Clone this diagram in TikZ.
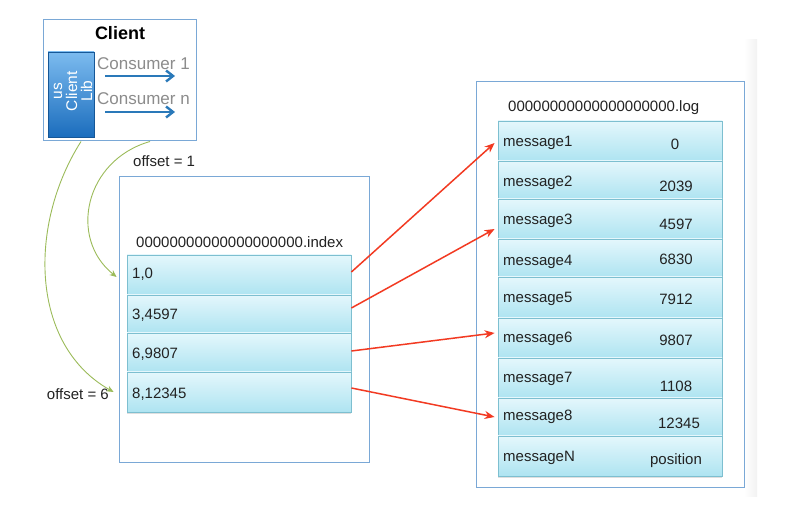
\documentclass[tikz,border=0pt]{standalone}
\usepackage{fontspec}
\setmainfont{Liberation Sans}
\usetikzlibrary{arrows.meta,shadows,calc}
\definecolor{boxblue}{HTML}{7AA8D6}
\definecolor{rowedge}{HTML}{7DBFD0}
\definecolor{rowtop}{HTML}{E4F7FC}
\definecolor{rowbot}{HTML}{AEE4F1}
\definecolor{libtop}{HTML}{7CBBEF}
\definecolor{libbot}{HTML}{1B6DBD}
\definecolor{consblue}{HTML}{2A79B9}
\definecolor{redarr}{HTML}{F23A22}
\definecolor{greenarr}{HTML}{9BBB59}
\definecolor{txt}{HTML}{222222}
\tikzset{
  frame/.style={draw=boxblue, line width=1pt, fill=white},
  rowbox/.style={draw=rowedge, line width=0.8pt, top color=rowtop, bottom color=rowbot,
    minimum width=224pt, inner sep=0pt,
    drop shadow={shadow xshift=0pt, shadow yshift=-2pt, opacity=0.25}},
  lbl/.style={inner sep=0pt, text=txt, font=\fontsize{15}{17}\selectfont, yshift=-1.2pt},
  redline/.style={draw=redarr, line width=1.5pt, -{Stealth[length=10pt,width=8pt]}},
  greenline/.style={draw=greenarr, line width=0.9pt, -{Stealth[length=7pt,width=6pt]}},
  consline/.style={draw=consblue, line width=2.4pt, -{Straight Barb[length=7pt,width=11pt]}},
}
\begin{document}
\begin{tikzpicture}[x=1pt,y=-1pt]
\useasboundingbox (0,0) rectangle (788,510);
% faint background band
\fill[left color=white, right color=black!5] (744,40) rectangle (757,497);

% Client box
\node[frame, minimum width=153pt, minimum height=121pt, inner sep=0pt] (client) at (119.5,80.5) {};
\node[lbl, font=\bfseries\fontsize{18}{20}\selectfont, text=black] (ctitle) at (120,32) {Client};
\node[draw=libbot!80!black, line width=0.5pt, top color=libtop, bottom color=libbot,
      minimum width=46pt, minimum height=85pt, inner sep=0pt] (lib) at (71,94.5) {};
\node[lbl, text=white, rotate=90, align=center, font=\fontsize{15.5}{15}\selectfont, yshift=0pt] (libtxt) at (73,90) {us\\Client\\Lib};
\node[lbl, anchor=west, text=black!45, font=\fontsize{17}{19}\selectfont] (cons1) at (97,62) {Consumer 1};
\node[lbl, anchor=west, text=black!45, font=\fontsize{17}{19}\selectfont] (consn) at (97,97) {Consumer n};
\coordinate (c1s) at (105,76); \coordinate (c1e) at (175,76);
\coordinate (cns) at (105,112); \coordinate (cne) at (175,112);
\draw[consline] (c1s) -- (c1e);
\draw[consline] (cns) -- (cne);

% Index box
\node[frame, minimum width=250pt, minimum height=286pt, inner sep=0pt] (index) at (244,320) {};
\node[lbl, anchor=west] (ifile) at (136,241) {00000000000000000000.index};
\node[rowbox, minimum height=40pt] (i1) at (239,275) {};
\node[rowbox, minimum height=38pt] (i2) at (239,314) {};
\node[rowbox, minimum height=39pt] (i3) at (239,352.5) {};
\node[rowbox, minimum height=40pt] (i4) at (239,392) {};
\node[lbl, anchor=west] (i1t) at (132,273) {1,0};
\node[lbl, anchor=west] (i2t) at (132,314) {3,4597};
\node[lbl, anchor=west] (i3t) at (132,353) {6,9807};
\node[lbl, anchor=west] (i4t) at (132,393) {8,12345};

% Log box
\node[frame, minimum width=268pt, minimum height=406pt, inner sep=0pt] (log) at (610,285) {};
\node[lbl, anchor=west] (lfile) at (508,106) {00000000000000000000.log};
\node[rowbox, minimum height=40pt] (m1) at (610,141) {};
\node[rowbox, minimum height=38pt] (m2) at (610,180) {};
\node[rowbox, minimum height=40pt] (m3) at (610,219) {};
\node[rowbox, minimum height=38pt] (m4) at (610,258) {};
\node[rowbox, minimum height=41pt] (m5) at (610,297.5) {};
\node[rowbox, minimum height=40pt] (m6) at (610,338) {};
\node[rowbox, minimum height=40pt] (m7) at (610,378) {};
\node[rowbox, minimum height=38pt] (m8) at (610,417) {};
\node[rowbox, minimum height=40pt] (mN) at (610,456) {};

\node[lbl, anchor=west] (m1t) at (503,142) {message1};
\node[lbl, anchor=west] (m2t) at (503,182) {message2};
\node[lbl, anchor=west] (m3t) at (503,220) {message3};
\node[lbl, anchor=west] (m4t) at (503,261) {message4};
\node[lbl, anchor=west] (m5t) at (503,298) {message5};
\node[lbl, anchor=west] (m6t) at (503,338) {message6};
\node[lbl, anchor=west] (m7t) at (503,378) {message7};
\node[lbl, anchor=west] (m8t) at (503,416) {message8};
\node[lbl, anchor=west] (mNt) at (503,457) {messageN};

\node[lbl] (p1) at (675,143) {0};
\node[lbl] (p2) at (676,185) {2039};
\node[lbl] (p3) at (676,223) {4597};
\node[lbl] (p4) at (676,258) {6830};
\node[lbl] (p5) at (676,298) {7912};
\node[lbl] (p6) at (676,339) {9807};
\node[lbl] (p7) at (676,385) {1108};
\node[lbl] (p8) at (679,422) {12345};
\node[lbl] (pN) at (676,459) {position};

% red arrows
\draw[redline] ($(i1.east)+(0,-3)$) -- ($(m1.west)+(-3,2)$);
\draw[redline] ($(i2.east)+(0,-6)$) -- ($(m3.west)+(-3,10)$);
\draw[redline] ($(i3.east)+(0,-1.5)$) -- ($(m6.west)+(-3,-5)$);
\draw[redline] ($(i4.east)+(0,-4)$) -- ($(m8.west)+(-3,0)$);

% green curves and offset labels
\node[lbl, anchor=west] (off1) at (133,160) {offset = 1};
\node[lbl, anchor=east] (off6) at (109,393) {offset = 6};
\coordinate (gA) at (81,141.5);
\coordinate (gB) at (150,141.5);
\draw[greenline] (gA) .. controls (28,225) and (30,345) .. ($(i4.west)+(-13,0)$);
\draw[greenline] (gB) .. controls (85,160) and (68,238) .. ($(i1.west)+(-10,2)$);
\end{tikzpicture}
\end{document}
